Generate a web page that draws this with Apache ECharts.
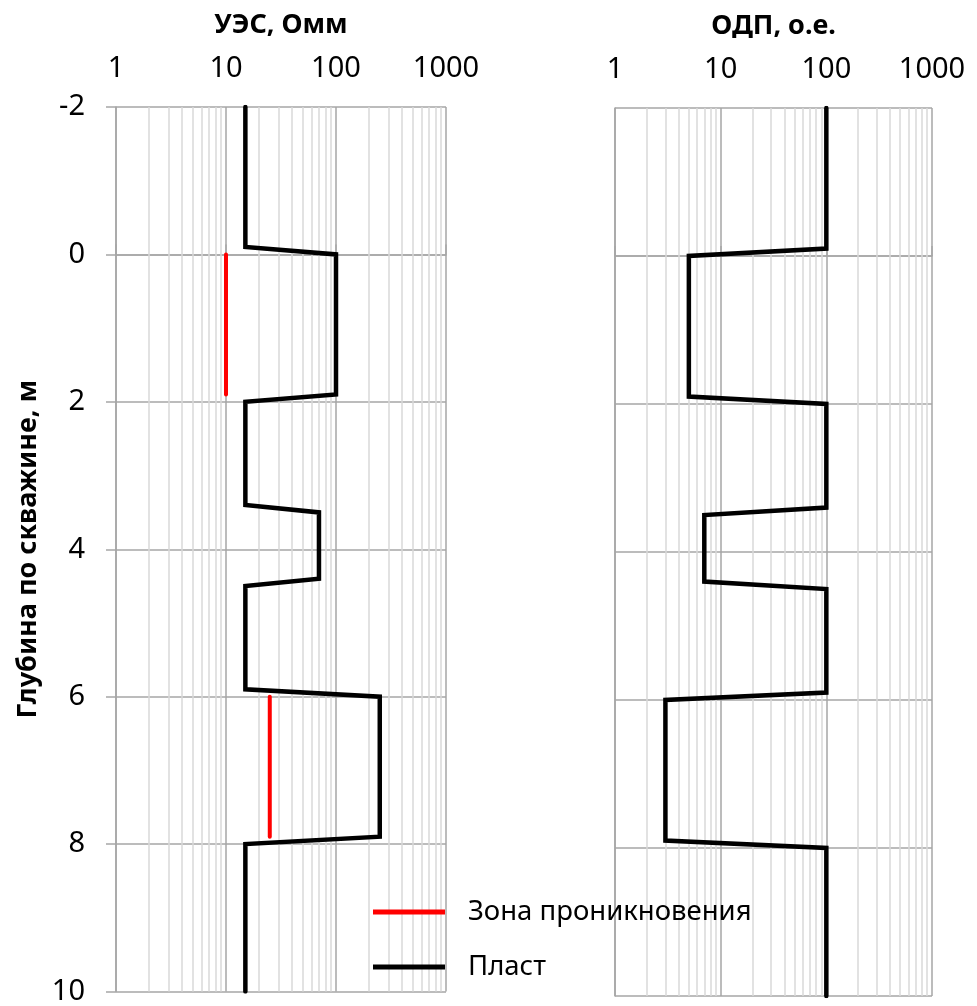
<!DOCTYPE html>
<html>
<head>
<meta charset="utf-8">
<script src="https://cdn.jsdelivr.net/npm/echarts@6/dist/echarts.min.js"></script>
<style>
  html, body { margin: 0; padding: 0; background: #fff; }
  #chart { width: 977px; height: 1006px; }
</style>
</head>
<body>
<div id="chart"></div>
<script>
// глубина, м (вершины ступенчатых кривых)
const depth = [-2, -0.1, 0, 1.9, 2, 3.4, 3.5, 4.4, 4.5, 5.9, 6, 7.9, 8, 10]
// УЭС пласта, Омм
const ues = [15, 15, 100, 100, 15, 15, 70, 70, 15, 15, 250, 250, 15, 15]
// ОДП, о.е.
const odp = [100, 100, 5, 5, 100, 100, 7, 7, 100, 100, 3, 3, 100, 100]
// зона проникновения
const zone1Depth = [0, 1.9]
const zone1Ues = [10, 10]
const zone2Depth = [6, 7.9]
const zone2Ues = [25, 25]
// промежуточные линии сетки на логарифмической шкале
const minorTicks = [2, 3, 4, 5, 6, 7, 8, 9, 20, 30, 40, 50, 60, 70, 80, 90, 200, 300, 400, 500, 600, 700, 800, 900]

const FONT = '"Noto Sans", sans-serif'
const majorGrid = '#a6a6a6'
const minorGrid = '#d9d9d9'

const pairs = (xs, ys) => xs.map((x, i) => [x, ys[i]])

const xAxisBase = (name) => ({
    type: 'log',
    logBase: 10,
    min: 1,
    max: 1000,
    position: 'top',
    name: name,
    nameLocation: 'middle',
    nameGap: 68,
    nameTextStyle: { fontFamily: FONT, fontSize: 27, fontWeight: 'bold', color: '#000' },
    axisLine: { show: true, lineStyle: { color: majorGrid, width: 1.5 } },
    axisTick: { show: true, length: 10, lineStyle: { color: majorGrid, width: 1.5 } },
    axisLabel: { fontFamily: FONT, fontSize: 29, color: '#000', margin: 24, formatter: v => String(v) },
    splitLine: { show: true, lineStyle: { color: majorGrid, width: 1.5 } }
})

const yAxisBase = (withLabels) => ({
    type: 'value',
    inverse: true,
    min: -2,
    max: 10,
    interval: 2,
    name: withLabels ? 'Глубина по скважине, м' : '',
    nameLocation: 'middle',
    nameRotate: 90,
    nameGap: 74,
    nameTextStyle: { fontFamily: FONT, fontSize: 27, fontWeight: 'bold', color: '#000' },
    axisLine: { show: true, lineStyle: { color: majorGrid, width: 1.5 } },
    axisTick: { show: withLabels, length: 10, lineStyle: { color: majorGrid, width: 1.5 } },
    axisLabel: { show: withLabels, fontFamily: FONT, fontSize: 29, color: '#000', margin: 31 },
    splitLine: { show: true, lineStyle: { color: majorGrid, width: 1.5 } }
})

const minorSeries = (idx) => ({
    type: 'line',
    name: 'minor' + idx,
    xAxisIndex: idx,
    yAxisIndex: idx,
    data: [],
    z: 1,
    silent: true,
    markLine: {
        silent: true,
        symbol: ['none', 'none'],
        label: { show: false },
        animation: false,
        lineStyle: { color: minorGrid, width: 1.5, type: 'solid' },
        emphasis: { disabled: true },
        data: minorTicks.map(v => ({ xAxis: v }))
    }
})

const curve = (name, idx, data, color, width) => ({
    type: 'line',
    name: name,
    xAxisIndex: idx,
    yAxisIndex: idx,
    data: data,
    showSymbol: false,
    symbol: 'none',
    z: 5,
    lineStyle: { color: color, width: width, join: 'miter', cap: 'round' },
    itemStyle: { color: color, borderWidth: 0 },
    emphasis: { disabled: true }
})

const chart = echarts.init(document.getElementById('chart'), null, { renderer: 'canvas' })

chart.setOption({
    animation: false,
    backgroundColor: '#fff',
    grid: [
        { left: 116, top: 107, width: 330, height: 886 },
        { left: 615, top: 108, width: 317, height: 888 }
    ],
    xAxis: [
        Object.assign(xAxisBase('УЭС, Омм'), { gridIndex: 0 }),
        Object.assign(xAxisBase('ОДП, о.е.'), { gridIndex: 1 })
    ],
    yAxis: [
        Object.assign(yAxisBase(true), { gridIndex: 0 }),
        Object.assign(yAxisBase(false), { gridIndex: 1 })
    ],
    legend: {
        data: ['Зона проникновения', 'Пласт'],
        orient: 'vertical',
        left: 373,
        top: 898,
        padding: 0,
        z: 10,
        icon: 'rect',
        itemWidth: 72,
        itemHeight: 5,
        itemGap: 27,
        selectedMode: false,
        itemStyle: { borderWidth: 0, decal: 'none' },
        textStyle: { fontFamily: FONT, fontSize: 27.5, color: '#000', padding: [0, 0, 0, 18] }
    },
    series: [
        minorSeries(0),
        minorSeries(1),
        curve('Зона проникновения', 0, pairs(zone1Ues, zone1Depth), '#ff0000', 4),
        curve('Зона проникновения', 0, pairs(zone2Ues, zone2Depth), '#ff0000', 4),
        curve('Пласт', 0, pairs(ues, depth), '#000000', 4.5),
        curve('Пласт', 1, pairs(odp, depth), '#000000', 4.5)
    ]
})
</script>
</body>
</html>
